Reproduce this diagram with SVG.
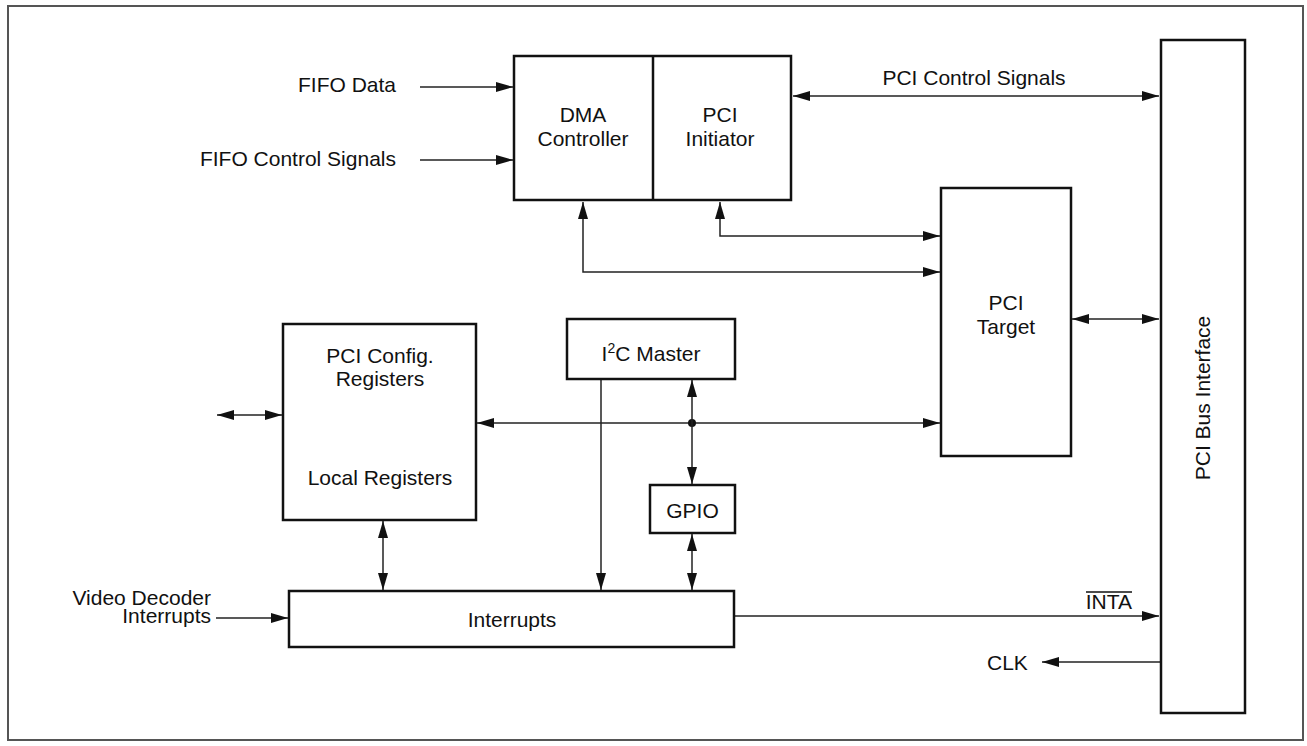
<svg xmlns="http://www.w3.org/2000/svg" width="1307" height="746" viewBox="0 0 1307 746">
<style>
.box{fill:#fff;stroke:#111;stroke-width:2.5}
.frame{fill:#fff;stroke:#555;stroke-width:2}
.c{fill:none;stroke:#222;stroke-width:1.5}
.t{font-family:"Liberation Sans",Arial,sans-serif;font-size:21px;fill:#111}
.m{text-anchor:middle}
.e{text-anchor:end}
</style>
<defs>
<marker id="ah" viewBox="0 0 17 10" refX="17" refY="5" markerWidth="17" markerHeight="10" markerUnits="userSpaceOnUse" orient="auto-start-reverse">
<path d="M0,0 L17,5 L0,10 z" fill="#111"/>
</marker>
</defs>
<rect class="frame" x="8" y="6" width="1295" height="734"/>

<g id="connectors">
<path class="c" d="M420,87 H513" marker-end="url(#ah)"/>
<path class="c" d="M420,160 H513" marker-end="url(#ah)"/>
<path class="c" d="M793,96 H1159" marker-start="url(#ah)" marker-end="url(#ah)"/>
<path class="c" d="M583,202 V272 H940" marker-start="url(#ah)" marker-end="url(#ah)"/>
<path class="c" d="M720,202 V236 H940" marker-start="url(#ah)" marker-end="url(#ah)"/>
<path class="c" d="M1072,319 H1159" marker-start="url(#ah)" marker-end="url(#ah)"/>
<path class="c" d="M217,415 H282" marker-start="url(#ah)" marker-end="url(#ah)"/>
<path class="c" d="M477,423 H940" marker-start="url(#ah)" marker-end="url(#ah)"/>
<circle cx="692" cy="423" r="4" fill="#111"/>
<path class="c" d="M692,380 V484" marker-start="url(#ah)" marker-end="url(#ah)"/>
<path class="c" d="M601,380 V590" marker-end="url(#ah)"/>
<path class="c" d="M692,534 V590" marker-start="url(#ah)" marker-end="url(#ah)"/>
<path class="c" d="M383,521 V590" marker-start="url(#ah)" marker-end="url(#ah)"/>
<path class="c" d="M216,618 H288" marker-end="url(#ah)"/>
<path class="c" d="M735,616 H1159" marker-end="url(#ah)"/>
<path class="c" d="M1160,662 H1042" marker-end="url(#ah)"/>
</g>

<g id="labels">
<text class="t e" x="396" y="92">FIFO Data</text>
<text class="t e" x="396" y="166">FIFO Control Signals</text>
<text class="t m" x="974" y="85">PCI Control Signals</text>
<text class="t e" x="211" y="605">Video Decoder</text>
<text class="t e" x="211" y="623">Interrupts</text>
<text class="t e" x="1132" y="609">INTA</text>
<line x1="1086" y1="592" x2="1132" y2="592" stroke="#111" stroke-width="1.3"/>
<text class="t" x="987" y="670">CLK</text>
</g>

<g id="dma-initiator">
<rect class="box" x="514" y="56" width="277" height="144"/>
<line x1="653" y1="56" x2="653" y2="200" stroke="#111" stroke-width="2.5"/>
<g id="dma">
<text class="t m" x="583" y="122">DMA</text>
<text class="t m" x="583" y="146">Controller</text>
</g>
<g id="pci-initiator">
<text class="t m" x="720" y="122">PCI</text>
<text class="t m" x="720" y="146">Initiator</text>
</g>
</g>

<g id="pci-target">
<rect class="box" x="941" y="188" width="130" height="268"/>
<text class="t m" x="1006" y="310">PCI</text>
<text class="t m" x="1006" y="334">Target</text>
</g>

<g id="pci-bus-interface">
<rect class="box" x="1161" y="40" width="84" height="673"/>
<text class="t m" transform="translate(1210,398) rotate(-90)">PCI Bus Interface</text>
</g>

<g id="pci-config">
<rect class="box" x="283" y="324" width="193" height="196"/>
<text class="t m" x="380" y="363">PCI Config.</text>
<text class="t m" x="380" y="386">Registers</text>
<text class="t m" x="380" y="485">Local Registers</text>
</g>

<g id="i2c-master">
<rect class="box" x="567" y="319" width="168" height="60"/>
<text class="t m" x="651" y="361">I<tspan font-size="14" dy="-8">2</tspan><tspan dy="8">C Master</tspan></text>
</g>

<g id="gpio">
<rect class="box" x="650" y="485" width="85" height="48"/>
<text class="t m" x="692.5" y="518">GPIO</text>
</g>

<g id="interrupts">
<rect class="box" x="289" y="591" width="445" height="56"/>
<text class="t m" x="512" y="627">Interrupts</text>
</g>
</svg>
